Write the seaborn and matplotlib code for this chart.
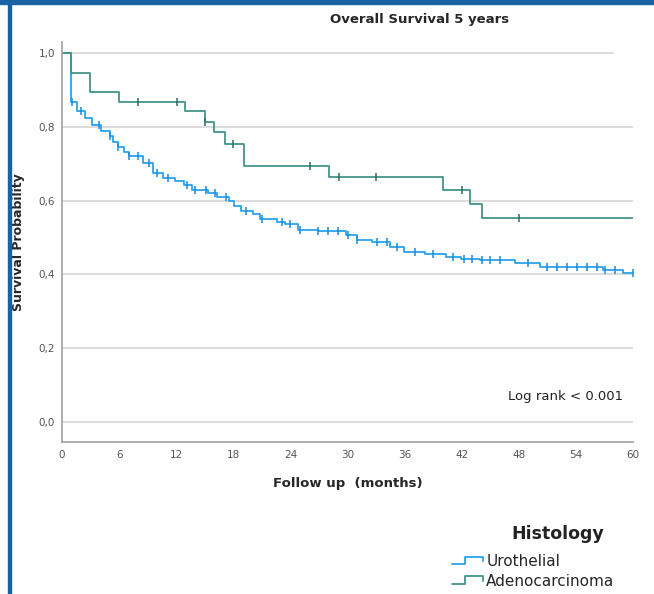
import numpy as np
import seaborn as sns
import matplotlib.pyplot as plt
from matplotlib.lines import Line2D
from matplotlib.patches import Rectangle
from matplotlib.legend_handler import HandlerBase

# Kaplan-Meier steps (months, survival after the step)
uro_times = [0, 0.9, 1.6, 2.4, 3.2, 4.1, 5.0, 5.4, 5.9, 6.5, 7.0, 8.5, 9.6, 10.6, 11.9,
             12.8, 13.7, 15.3, 16.3, 17.5, 18.1, 18.8, 20.1, 20.8, 22.6, 23.4, 24.8,
             26.9, 29.8, 31.0, 32.6, 34.5, 35.9, 38.1, 40.3, 41.9, 43.9, 47.6, 50.2,
             56.9, 58.9]
uro_surv = [1.0, 0.868, 0.842, 0.823, 0.804, 0.790, 0.774, 0.760, 0.746, 0.733, 0.722,
            0.701, 0.675, 0.661, 0.652, 0.642, 0.629, 0.620, 0.611, 0.600, 0.585, 0.573,
            0.564, 0.550, 0.541, 0.536, 0.521, 0.517, 0.507, 0.493, 0.488, 0.475, 0.461,
            0.456, 0.447, 0.441, 0.438, 0.431, 0.421, 0.412, 0.404]
uro_censor = [1.0, 2.0, 3.9, 5.0, 5.9, 7.0, 8.0, 9.1, 10.0, 11.1, 13.1, 14.0, 15.1, 16.1,
              17.2, 19.3, 21.0, 23.1, 24.0, 25.0, 26.9, 28.0, 29.0, 30.1, 31.0, 33.1,
              34.2, 35.2, 37.1, 39.0, 41.1, 42.2, 43.1, 44.1, 45.0, 46.0, 49.0, 51.0,
              52.0, 53.1, 54.1, 55.2, 56.2, 57.1, 58.1, 60.0]

adeno_times = [0, 0.9, 2.9, 6.0, 12.9, 15.0, 16.0, 17.1, 19.1, 28.1, 40.0, 42.9, 44.1]
adeno_surv = [1.0, 0.947, 0.895, 0.868, 0.842, 0.812, 0.785, 0.754, 0.694, 0.664, 0.629,
              0.592, 0.554]
adeno_censor = [8.0, 12.1, 15.0, 18.0, 26.1, 29.1, 33.0, 42.0, 48.0]

follow_end = 60
x_ticks = [0, 6, 12, 18, 24, 30, 36, 42, 48, 54, 60]
y_ticks = [0.0, 0.2, 0.4, 0.6, 0.8, 1.0]
y_labels = ["0,0", "0,2", "0,4", "0,6", "0,8", "1,0"]

uro_color = "#2ba3ec"
uro_mark = "#1a8cd8"
adeno_color = "#449389"
adeno_mark = "#2c6d64"

sns.set_theme(style="white")
plt.rcParams['font.family'] = ['DejaVu Sans']

fig = plt.figure(figsize=(6.54, 5.94), dpi=100)
ax = fig.add_axes([62 / 654, 1 - 441.7 / 594, 571 / 654, 400 / 594])


def km_curve(times, surv, censor, color, mark_color):
    t = list(times) + [follow_end]
    s = list(surv) + [surv[-1]]
    sns.lineplot(x=t, y=s, ax=ax, color=color, lw=1.3, drawstyle="steps-post",
                 estimator=None, sort=False, legend=False)
    idx = np.searchsorted(times, censor, side="right") - 1
    cy = np.array(surv)[idx]
    sns.scatterplot(x=censor, y=cy, ax=ax, marker="|", s=40, color=mark_color,
                    linewidth=1.1, legend=False, zorder=3)


# horizontal grid
for yv in y_ticks:
    ax.axhline(yv, color="#dcdcdc", lw=1.4, zorder=0,
               xmax=0.965 if yv == 1.0 else 1.0)

km_curve(uro_times, uro_surv, uro_censor, uro_color, uro_mark)
km_curve(adeno_times, adeno_surv, adeno_censor, adeno_color, adeno_mark)

ax.set_xlim(0, 60)
ax.set_ylim(-0.054, 1.031)
ax.set_xticks(x_ticks)
ax.set_yticks(y_ticks)
ax.set_yticklabels(y_labels)
ax.tick_params(axis="both", length=0, labelsize=7.5, labelcolor="#555555")
ax.tick_params(axis="x", pad=6)
ax.tick_params(axis="y", pad=5)
for side in ["top", "right"]:
    ax.spines[side].set_visible(False)
for side in ["left", "bottom"]:
    ax.spines[side].set_color("#a8a8a8")
    ax.spines[side].set_linewidth(1.3)

ax.set_xlabel("Follow up  (months)", fontsize=9.5, fontweight="bold", labelpad=12)
ax.set_ylabel("Survival Probability", fontsize=9, fontweight="bold", labelpad=10)
fig.text(420 / 654, 1 - 20 / 594, "Overall Survival 5 years", ha="center", va="center",
         fontsize=9.5, fontweight="bold")
ax.text(0.9825, 0.1125, "Log rank < 0.001", transform=ax.transAxes, ha="right",
        va="center", fontsize=9.5, color="#222222")


class StepHandler(HandlerBase):
    def create_artists(self, legend, orig_handle, xdescent, ydescent, width, height,
                       fontsize, trans):
        xs = np.array([0, 0.42, 0.42, 1.0, 1.0]) * width - xdescent
        ys = np.array([0.15, 0.15, 0.85, 0.85, 0.45]) * height - ydescent
        ln = Line2D(xs, ys, color=orig_handle.get_color(), lw=1.3)
        ln.set_transform(trans)
        return [ln]


handles = [Line2D([], [], color=uro_color), Line2D([], [], color=adeno_color)]
fig.legend(handles, ["Urothelial", "Adenocarcinoma"], loc="upper left",
           bbox_to_anchor=(452 / 654, 1 - 554 / 594), frameon=False, fontsize=11,
           handlelength=2.0, handletextpad=0.25, labelspacing=0.3, borderpad=0,
           borderaxespad=0, handler_map={Line2D: StepHandler()})
fig.text(558 / 654, 1 - 534 / 594, "Histology", ha="center", va="center",
         fontsize=12.5, fontweight="bold", color="#222222")

# blue frame of the screenshot
fig.add_artist(Rectangle((0, 1 - 4 / 594), 1, 4 / 594, transform=fig.transFigure,
                         color="#1a62a6", zorder=5))
fig.add_artist(Rectangle((8 / 654, 0), 2.5 / 654, 1, transform=fig.transFigure,
                         color="#1a62a6", zorder=5))

fig.savefig("out.png", dpi=100)
